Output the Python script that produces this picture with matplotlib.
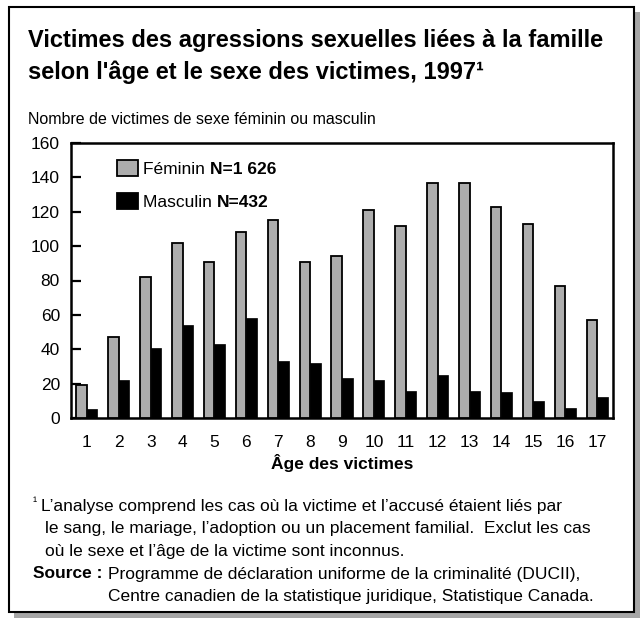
import matplotlib
matplotlib.use("Agg")
import matplotlib.pyplot as plt
from matplotlib.patches import Rectangle
import numpy as np

plt.rcParams['font.family'] = ['Liberation Sans', 'DejaVu Sans']

ages = [str(i) for i in range(1, 18)]
feminin = [19, 47, 82, 102, 91, 108, 115, 91, 94, 121, 112, 137, 137, 123, 113, 77, 57]
masculin = [5, 22, 41, 54, 43, 58, 33, 32, 23, 22, 16, 25, 16, 15, 10, 6, 12]
yticks = [0, 20, 40, 60, 80, 100, 120, 140, 160]

title = "Victimes des agressions sexuelles liées à la famille\nselon l'âge et le sexe des victimes, 1997\u00b9"
subtitle = "Nombre de victimes de sexe féminin ou masculin"
xlabel = "Âge des victimes"
legend_labels = [("Féminin ", "N=1 626"), ("Masculin ", "N=432")]
foot_mark = "\u00b9"
foot = ["L\u2019analyse comprend les cas où la victime et l\u2019accusé étaient liés par",
        "le sang, le mariage, l\u2019adoption ou un placement familial.  Exclut les cas",
        "où le sexe et l\u2019âge de la victime sont inconnus."]
source_lbl = "Source :"
source_txt = ["Programme de déclaration uniforme de la criminalité (DUCII),",
              "Centre canadien de la statistique juridique, Statistique Canada."]

W, H = 640, 619
fig = plt.figure(figsize=(W / 100, H / 100), dpi=100)
fig.patch.set_facecolor('white')

def fx(px):
    return px / W

def fy(py):
    return 1 - py / H

# shadow and frame
fig.patches.append(Rectangle((fx(14), fy(618)), (640 - 14) / W, (618 - 12) / H,
                             transform=fig.transFigure, facecolor='#a6a6a6', edgecolor='none', zorder=0))
fig.patches.append(Rectangle((fx(9), fy(612)), (634 - 9) / W, (612 - 7) / H,
                             transform=fig.transFigure, facecolor='white', edgecolor='black',
                             linewidth=1.5, zorder=1))

fig.text(fx(28), fy(38), title.split("\n")[0], fontsize=17, fontweight='bold', va='center_baseline', ha='left')
fig.text(fx(28), fy(70), title.split("\n")[1], fontsize=17, fontweight='bold', va='center_baseline', ha='left')
fig.text(fx(28), fy(118), subtitle, fontsize=11.5, va='center_baseline', ha='left')

ax = fig.add_axes([fx(71), fy(418), (613 - 71) / W, (418 - 143) / H])
ax.set_zorder(2)
x = np.arange(1, 18)
bw = 0.33
ax.bar(x - bw / 2, feminin, width=bw, color='#adadad', edgecolor='black', linewidth=1.3, zorder=3)
ax.bar(x + bw / 2, masculin, width=bw, color='black', edgecolor='black', linewidth=0.5, zorder=3)
ax.set_xlim(0.5, 17.5)
ax.set_ylim(0, 160)
ax.set_yticks(yticks)
ax.set_xticks(x)
ax.set_xticklabels(ages)
ax.tick_params(axis='y', direction='in', length=7, width=1.6, labelsize=12.5, pad=8)
ax.tick_params(axis='x', length=0, labelsize=12.5, pad=12)
for s in ax.spines.values():
    s.set_linewidth(1.8)
fig.text(fx(342), fy(462), xlabel, fontsize=12.5, fontweight='bold', va='center_baseline', ha='center')

# legend
colors = ['#adadad', 'black']
ys = [168, 201]
fig.canvas.draw()
for (lab, n), c, yy in zip(legend_labels, colors, ys):
    fig.patches.append(Rectangle((fx(117), fy(yy + 8)), 21 / W, 16 / H, transform=fig.transFigure,
                                 facecolor=c, edgecolor='black', linewidth=1.3, zorder=5))
    t = fig.text(fx(143), fy(yy), lab, fontsize=12.5, va='center_baseline', ha='left', zorder=5)
    bb = t.get_window_extent(renderer=fig.canvas.get_renderer())
    fig.text(bb.x1 / W, fy(yy), n, fontsize=12.5, fontweight='bold', va='center_baseline', ha='left', zorder=5)

fs = 12.5
rend = fig.canvas.get_renderer()
fy0 = 505
fig.text(fx(33), fy(fy0 - 3), foot_mark, fontsize=9, va='center_baseline', ha='left')
fig.text(fx(41), fy(fy0), foot[0], fontsize=fs, va='center_baseline', ha='left')
fig.text(fx(45), fy(fy0 + 22.5), foot[1], fontsize=fs, va='center_baseline', ha='left')
fig.text(fx(45), fy(fy0 + 45), foot[2], fontsize=fs, va='center_baseline', ha='left')
src = fig.text(fx(33), fy(fy0 + 67.5), source_lbl, fontsize=fs, fontweight='bold', va='center_baseline', ha='left')
sb = src.get_window_extent(renderer=rend)
px0 = sb.x1 + 6
fig.text(px0 / W, fy(fy0 + 67.5), source_txt[0], fontsize=fs, va='center_baseline', ha='left')
fig.text(px0 / W, fy(fy0 + 90), source_txt[1], fontsize=fs, va='center_baseline', ha='left')

fig.savefig('out.png', dpi=100)
